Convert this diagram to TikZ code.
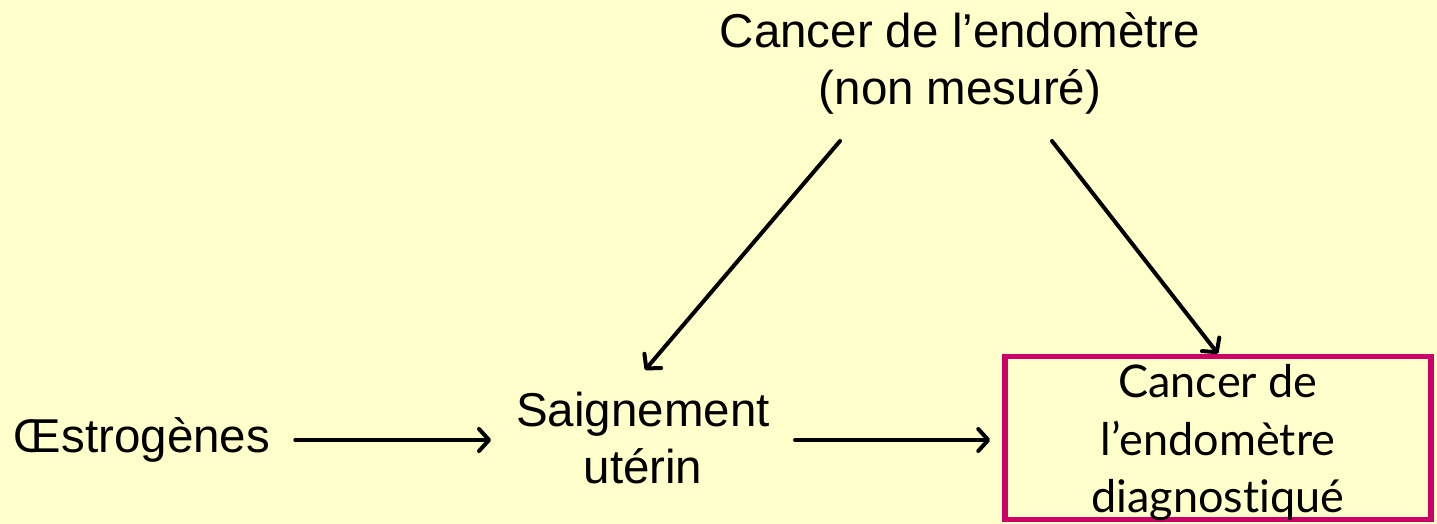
\documentclass[tikz,border=0pt]{standalone}
\usepackage{fontspec}
\setmainfont{Liberation Sans}
\newfontfamily\boxfont[Ligatures=NoCommon]{Lato}
\usetikzlibrary{calc,arrows.meta}
\definecolor{bgyellow}{HTML}{FFFFCC}
\definecolor{boxmag}{HTML}{CC0066}
\begin{document}
\begin{tikzpicture}[x=1pt,y=-1pt,
  lbl/.style={font=\fontsize{47.5}{57}\selectfont, align=center, inner sep=0pt},
  arr/.style={-{Straight Barb[length=10pt,width=22pt,round]}, line width=4pt, line cap=round},
  dxbox/.style={draw=boxmag, line width=5.5pt, minimum width=426pt, minimum height=163pt,
    inner sep=0pt, align=center, font=\boxfont\fontsize{45}{57.5}\selectfont}
]
\useasboundingbox (0,0) rectangle (1437,524);
\fill[bgyellow] (0,0) rectangle (1437,524);

\node[lbl] (top) at (960,63) {Cancer de l’endomètre\\(non mesuré)};
\node[lbl] (oes) at (142,440) {Œstrogènes};
\node[lbl] (sai) at (643,438) {Saignement\\utérin};
\node[dxbox] (dx) at (1218,438) {};
\node[font=\boxfont\fontsize{45}{57.5}\selectfont, align=center, inner sep=0pt] (dxt) at ($(dx.center)+(0,5)$) {Cancer de\\l’endomètre\\diagnostiqué};

\draw[arr, shorten <=25pt, shorten >=25pt] (oes.east) -- (oes.east -| sai.west);
\draw[arr, shorten <=25pt, shorten >=12pt] (sai.east |- oes.east) -- (dx.west |- oes.east);
\draw[arr] ($(top.center)+(-120,78)$) -- ($(sai.center)+(2,-68)$);
\draw[arr] ($(top.center)+(92,78)$) -- ($(dx.north)+(0,0)$);
\end{tikzpicture}
\end{document}
